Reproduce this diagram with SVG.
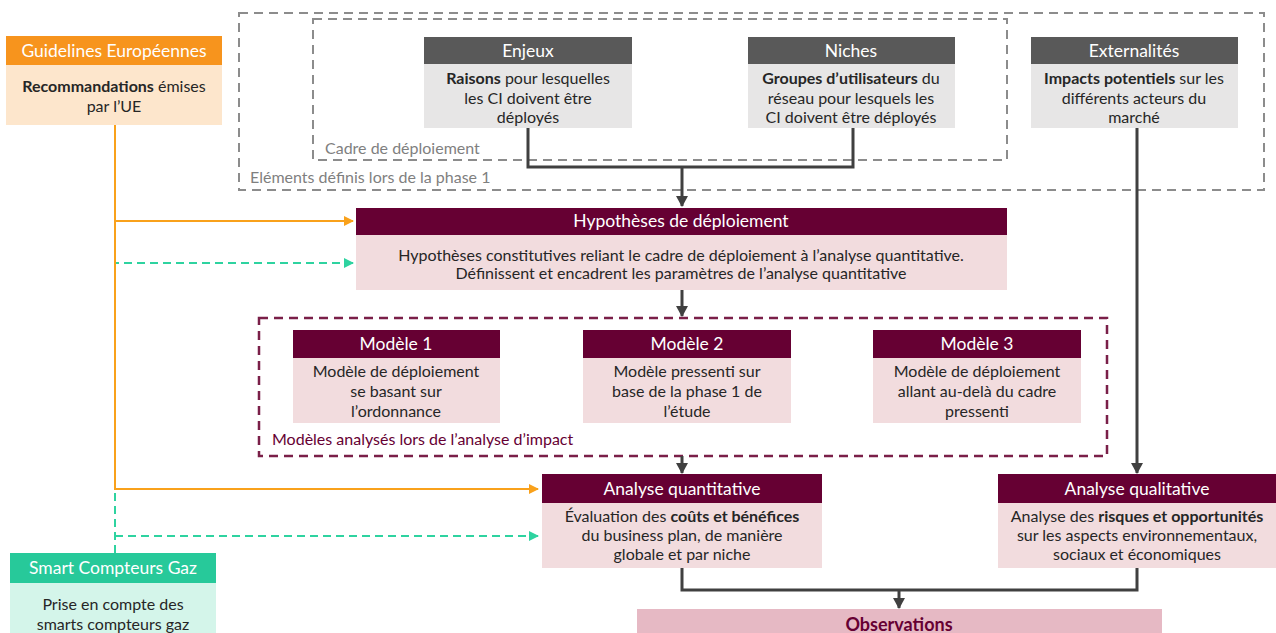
<svg xmlns="http://www.w3.org/2000/svg" width="1276" height="633" viewBox="0 0 1276 633">
<style>
text{font-family:Lato,"Liberation Sans",sans-serif;}
.hd{fill:#fff;font-size:17.5px;text-anchor:middle;}
.bd{fill:#262626;font-size:16px;text-anchor:middle;}
.b{font-weight:bold;}
.gh{fill:#595959;} .gb{fill:#E7E6E6;}
.mh{fill:#660033;} .mb{fill:#F2DCDE;}
.lbl{font-size:16px;}
.dk{stroke:#404040;stroke-width:3;fill:none;}
.or{stroke:#F9A11B;stroke-width:2;fill:none;}
.gr{stroke:#2ED3A0;stroke-width:2;fill:none;stroke-dasharray:8 5;}
</style>
<defs>
<marker id="ad" markerUnits="userSpaceOnUse" markerWidth="12" markerHeight="12" refX="10" refY="6" orient="auto"><path d="M0,0 L11,6 L0,12 z" fill="#404040"/></marker>
<marker id="ao" markerUnits="userSpaceOnUse" markerWidth="10" markerHeight="10" refX="9" refY="5" orient="auto"><path d="M0,0 L10,5 L0,10 z" fill="#F9A11B"/></marker>
<marker id="ag" markerUnits="userSpaceOnUse" markerWidth="10" markerHeight="10" refX="9" refY="5" orient="auto"><path d="M0,0 L10,5 L0,10 z" fill="#2ED3A0"/></marker>
</defs>
<rect width="1276" height="633" fill="#fff"/>

<g id="phase1-frame">
<rect x="239" y="13" width="1025" height="177" fill="none" stroke="#8C8C8C" stroke-width="2" stroke-dasharray="9 6"/>
<text x="250" y="183" class="lbl" fill="#7F7F7F">Eléments définis lors de la phase 1</text>
</g>
<g id="cadre-frame">
<rect x="313" y="19" width="694" height="141" fill="none" stroke="#8C8C8C" stroke-width="2" stroke-dasharray="9 6"/>
<text x="325" y="154" class="lbl" fill="#7F7F7F">Cadre de déploiement</text>
</g>
<g id="models-frame">
<rect x="259" y="318" width="848" height="138" fill="none" stroke="#7A1F48" stroke-width="2.5" stroke-dasharray="9 6"/>
<text x="272" y="445" class="lbl" fill="#660033">Modèles analysés lors de l’analyse d’impact</text>
</g>

<g id="connectors">
<path class="gr" d="M115,553 V263 H353" marker-end="url(#ag)"/>
<path class="gr" d="M115,536 H538" marker-end="url(#ag)"/>
<path class="or" d="M115,125 V489 H538" marker-end="url(#ao)"/>
<path class="or" d="M115,221 H353" marker-end="url(#ao)"/>
<path class="dk" d="M528,128 V167 H853 V128"/>
<path class="dk" d="M682,167 V206" marker-end="url(#ad)"/>
<path class="dk" d="M682,290 V316" marker-end="url(#ad)"/>
<path class="dk" d="M682,456 V473" marker-end="url(#ad)"/>
<path class="dk" d="M1137,128 V473" marker-end="url(#ad)"/>
<path class="dk" d="M682,568 V590 H1137 V568"/>
<path class="dk" d="M899,590 V608" marker-end="url(#ad)"/>
</g>

<g id="guidelines">
<rect x="6" y="36" width="216" height="29" fill="#F7941D"/>
<rect x="6" y="65" width="216" height="60" fill="#FDE6CC"/>
<text x="114" y="57" class="hd">Guidelines Européennes</text>
<text x="114" y="92" class="bd"><tspan class="b">Recommandations</tspan> émises</text>
<text x="114" y="112" class="bd">par l’UE</text>
</g>

<g id="enjeux">
<rect x="424" y="37" width="208" height="27" class="gh"/>
<rect x="424" y="64" width="208" height="64" class="gb"/>
<text x="528" y="57" class="hd">Enjeux</text>
<text x="528" y="84" class="bd"><tspan class="b">Raisons</tspan> pour lesquelles</text>
<text x="528" y="104" class="bd">les CI doivent être</text>
<text x="528" y="123" class="bd">déployés</text>
</g>

<g id="niches">
<rect x="748" y="37" width="207" height="27" class="gh"/>
<rect x="748" y="64" width="207" height="64" class="gb"/>
<text x="851" y="57" class="hd">Niches</text>
<text x="851" y="84" class="bd"><tspan class="b">Groupes d’utilisateurs</tspan> du</text>
<text x="851" y="104" class="bd">réseau pour lesquels les</text>
<text x="851" y="123" class="bd">CI doivent être déployés</text>
</g>

<g id="externalites">
<rect x="1031" y="37" width="207" height="27" class="gh"/>
<rect x="1031" y="64" width="207" height="64" class="gb"/>
<text x="1134" y="57" class="hd">Externalités</text>
<text x="1134" y="84" class="bd"><tspan class="b">Impacts potentiels</tspan> sur les</text>
<text x="1134" y="104" class="bd">différents acteurs du</text>
<text x="1134" y="123" class="bd">marché</text>
</g>

<g id="hypotheses">
<rect x="356" y="208" width="651" height="27" class="mh"/>
<rect x="356" y="235" width="651" height="55" class="mb"/>
<text x="681" y="227" class="hd">Hypothèses de déploiement</text>
<text x="681" y="261" class="bd">Hypothèses constitutives reliant le cadre de déploiement à l’analyse quantitative.</text>
<text x="681" y="279" class="bd">Définissent et encadrent les paramètres de l’analyse quantitative</text>
</g>

<g id="modele1">
<rect x="293" y="330" width="207" height="28" class="mh"/>
<rect x="293" y="358" width="207" height="65" class="mb"/>
<text x="396" y="350" class="hd">Modèle 1</text>
<text x="396" y="377" class="bd">Modèle de déploiement</text>
<text x="396" y="397" class="bd">se basant sur</text>
<text x="396" y="417" class="bd">l’ordonnance</text>
</g>

<g id="modele2">
<rect x="583" y="330" width="208" height="28" class="mh"/>
<rect x="583" y="358" width="208" height="65" class="mb"/>
<text x="687" y="350" class="hd">Modèle 2</text>
<text x="687" y="377" class="bd">Modèle pressenti sur</text>
<text x="687" y="397" class="bd">base de la phase 1 de</text>
<text x="687" y="417" class="bd">l’étude</text>
</g>

<g id="modele3">
<rect x="873" y="330" width="208" height="28" class="mh"/>
<rect x="873" y="358" width="208" height="65" class="mb"/>
<text x="977" y="350" class="hd">Modèle 3</text>
<text x="977" y="377" class="bd">Modèle de déploiement</text>
<text x="977" y="397" class="bd">allant au-delà du cadre</text>
<text x="977" y="417" class="bd">pressenti</text>
</g>

<g id="analyse-quantitative">
<rect x="542" y="474" width="280" height="29" class="mh"/>
<rect x="542" y="503" width="280" height="65" class="mb"/>
<text x="682" y="495" class="hd">Analyse quantitative</text>
<text x="682" y="522" class="bd">Évaluation des <tspan class="b">coûts et bénéfices</tspan></text>
<text x="682" y="541" class="bd">du business plan, de manière</text>
<text x="682" y="560" class="bd">globale et par niche</text>
</g>

<g id="analyse-qualitative">
<rect x="998" y="474" width="278" height="29" class="mh"/>
<rect x="998" y="503" width="278" height="65" class="mb"/>
<text x="1137" y="495" class="hd">Analyse qualitative</text>
<text x="1137" y="522" class="bd">Analyse des <tspan class="b">risques et opportunités</tspan></text>
<text x="1137" y="541" class="bd">sur les aspects environnementaux,</text>
<text x="1137" y="560" class="bd">sociaux et économiques</text>
</g>

<g id="observations">
<rect x="637" y="609" width="525" height="24" fill="#E6B9C4"/>
<text x="899" y="631" class="b" style="fill:#660033;font-size:18px;text-anchor:middle">Observations</text>
</g>

<g id="smart-compteurs">
<rect x="10" y="553" width="206" height="30" fill="#27C99A"/>
<rect x="10" y="583" width="206" height="50" fill="#D4F5EA"/>
<text x="113" y="574" class="hd">Smart Compteurs Gaz</text>
<text x="113" y="610" class="bd">Prise en compte des</text>
<text x="113" y="630" class="bd">smarts compteurs gaz</text>
</g>
</svg>
